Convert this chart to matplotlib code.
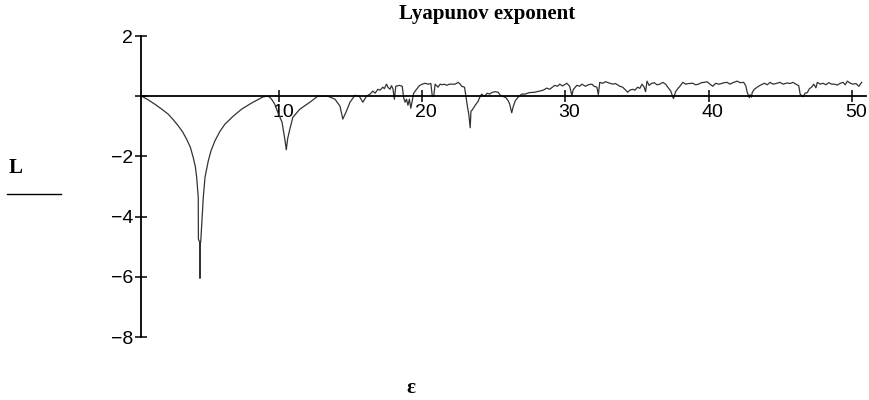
import numpy as np
import matplotlib.pyplot as plt
from matplotlib.transforms import ScaledTranslation
from matplotlib.lines import Line2D

# Lyapunov exponent L, against epsilon
eps = [0.40, 0.85, 1.33, 1.80, 2.26, 2.60, 2.96, 3.25, 3.54, 3.80, 4.00, 4.15,
       4.24, 4.35, 4.36, 4.45, 4.47, 4.49, 4.52, 4.70, 4.82, 5.05, 5.25, 5.52,
       5.85, 6.21, 6.80, 7.38, 8.10, 8.89, 9.20, 9.36, 9.50, 9.70, 9.90, 10.20,
       10.40, 10.50, 10.60, 10.75, 10.96, 11.45, 12.15, 12.70, 13.40, 13.90, 14.25, 14.45,
       14.70, 14.95, 15.30, 15.60, 15.85, 16.10, 16.35, 16.55, 16.70, 16.90, 17.05, 17.25,
       17.35, 17.50, 17.60, 17.75, 17.85, 17.95, 18.05, 18.15, 18.40, 18.60, 18.70, 18.80,
       18.90, 19.00, 19.10, 19.20, 19.30, 19.40, 19.60, 19.80, 20.00, 20.20, 20.40, 20.60,
       20.70, 20.80, 20.90, 21.10, 21.25, 21.40, 21.55, 21.70, 21.90, 22.10, 22.30, 22.50,
       22.65, 22.75, 22.95, 23.05, 23.15, 23.25, 23.35, 23.40, 23.50, 23.70, 23.90, 24.00,
       24.15, 24.30, 24.40, 24.55, 24.70, 24.90, 25.10, 25.30, 25.45, 25.60, 25.85, 26.00,
       26.10, 26.25, 26.35, 26.50, 26.70, 26.95, 27.20, 27.35, 27.50, 27.85, 28.00, 28.20,
       28.45, 28.70, 28.90, 29.10, 29.26, 29.45, 29.60, 29.80, 30.10, 30.30, 30.45, 30.55,
       30.80, 31.00, 31.15, 31.40, 31.60, 31.85, 32.00, 32.20, 32.30, 32.40, 32.60, 32.80,
       33.10, 33.30, 33.50, 33.80, 34.00, 34.15, 34.35, 34.50, 34.70, 34.85, 35.05, 35.20,
       35.35, 35.50, 35.60, 35.70, 35.85, 36.00, 36.20, 36.40, 36.60, 36.80, 37.00, 37.15,
       37.35, 37.55, 37.70, 37.85, 38.00, 38.20, 38.40, 38.60, 38.90, 39.10, 39.30, 39.50,
       39.70, 39.90, 40.10, 40.30, 40.50, 40.70, 40.90, 41.10, 41.30, 41.50, 41.70, 42.00,
       42.20, 42.45, 42.60, 42.70, 42.85, 42.90, 43.00, 43.05, 43.20, 43.40, 43.60, 43.90,
       44.10, 44.30, 44.50, 44.70, 45.00, 45.20, 45.50, 45.70, 45.90, 46.10, 46.30, 46.40,
       46.60, 46.75, 46.90, 47.05, 47.20, 47.35, 47.50, 47.60, 47.80, 48.00, 48.20, 48.40,
       48.60, 48.80, 49.00, 49.20, 49.40, 49.55, 49.70, 49.90, 50.10, 50.30, 50.50, 50.70]

L = [0.00, -0.12, -0.27, -0.43, -0.60, -0.78, -0.99, -1.18, -1.43, -1.70, -2.04, -2.35,
     -2.70, -3.37, -4.75, -4.85, -6.05, -4.85, -4.86, -3.37, -2.70, -2.15, -1.80, -1.48,
     -1.18, -0.93, -0.66, -0.43, -0.22, -0.02, 0.00, -0.04, -0.12, -0.27, -0.53, -0.86,
     -1.43, -1.78, -1.40, -1.09, -0.70, -0.43, -0.20, 0.00, 0.00, -0.10, -0.33, -0.76,
     -0.50, -0.20, 0.03, 0.00, -0.20, 0.00, 0.07, 0.17, 0.10, 0.23, 0.20, 0.30,
     0.25, 0.40, 0.30, 0.23, 0.35, 0.25, -0.10, 0.33, 0.36, 0.33, -0.05, -0.20,
     -0.10, -0.30, -0.10, -0.40, -0.15, 0.10, 0.23, 0.35, 0.40, 0.43, 0.40, 0.42,
     0.00, 0.00, 0.40, 0.30, 0.40, 0.38, 0.40, 0.36, 0.40, 0.40, 0.40, 0.46,
     0.40, 0.33, 0.30, 0.00, -0.33, -0.60, -1.05, -0.50, -0.45, -0.30, -0.17, -0.05,
     0.07, 0.00, 0.03, 0.10, 0.07, 0.13, 0.15, 0.13, 0.03, 0.00, -0.05, -0.15,
     -0.25, -0.55, -0.35, -0.15, -0.03, 0.07, 0.07, 0.10, 0.12, 0.13, 0.15, 0.17,
     0.20, 0.27, 0.23, 0.30, 0.36, 0.33, 0.40, 0.34, 0.43, 0.33, 0.02, 0.22,
     0.36, 0.33, 0.40, 0.33, 0.38, 0.40, 0.33, 0.30, 0.05, 0.46, 0.43, 0.48,
     0.43, 0.40, 0.42, 0.33, 0.30, 0.23, 0.13, 0.20, 0.23, 0.20, 0.30, 0.26,
     0.40, 0.30, 0.15, 0.50, 0.36, 0.42, 0.45, 0.38, 0.40, 0.46, 0.40, 0.30,
     0.18, -0.08, 0.15, 0.25, 0.33, 0.46, 0.40, 0.42, 0.43, 0.38, 0.40, 0.45,
     0.46, 0.48, 0.40, 0.33, 0.43, 0.40, 0.42, 0.45, 0.46, 0.40, 0.45, 0.50,
     0.45, 0.46, 0.35, 0.13, -0.05, 0.05, -0.03, 0.12, 0.23, 0.30, 0.36, 0.43,
     0.38, 0.46, 0.40, 0.42, 0.46, 0.40, 0.44, 0.42, 0.46, 0.40, 0.35, 0.07,
     -0.02, 0.10, 0.12, 0.25, 0.30, 0.40, 0.28, 0.46, 0.40, 0.43, 0.38, 0.45,
     0.40, 0.40, 0.37, 0.43, 0.46, 0.38, 0.50, 0.43, 0.40, 0.42, 0.33, 0.46]

xticks = [10, 20, 30, 40, 50]
yticks = [2, 0, -2, -4, -6, -8]
ytick_labels = ["2", "", "\u22122", "\u22124", "\u22126", "\u22128"]

tick_font = ["Liberation Sans Narrow", "Liberation Sans", "DejaVu Sans"]

fig = plt.figure(figsize=(8.7, 4.0), dpi=100)
ax = fig.add_axes([141 / 870, 63 / 400, 725 / 870, 301 / 400])

ax.plot(eps, L, color="#333333", lw=0.9)

ax.set_xlim(0.35, 51.0)
ax.set_ylim(-8, 2)

# Maple-like axes crossing at the origin
ax.spines["top"].set_visible(False)
ax.spines["right"].set_visible(False)
ax.spines["bottom"].set_position(("data", 0))
ax.spines["bottom"].set_linewidth(1.3)
ax.spines["left"].set_linewidth(1.3)

ax.set_xticks(xticks)
ax.set_xticklabels([str(t) for t in xticks], fontsize=14, family=tick_font)
ax.set_yticks(yticks)
ax.set_yticklabels(ytick_labels, fontsize=14, family=tick_font)
ax.tick_params(axis="both", direction="inout", length=9, width=1.1, colors="black")
ax.tick_params(axis="x", pad=1)
ax.tick_params(axis="y", pad=1)

# shift the x tick labels a bit to the right as in the reference
for lab in ax.get_xticklabels():
    lab.set_transform(lab.get_transform() + ScaledTranslation(4 / 100, 0, fig.dpi_scale_trans))

fig.text(487 / 870, 1 - 14 / 400, "Lyapunov exponent", ha="center", va="center",
         fontsize=15, fontweight="bold", family="Liberation Serif")
fig.text(16 / 870, 1 - 168 / 400, "L", ha="center", va="center",
         fontsize=15, fontweight="bold", family="Liberation Serif")
fig.add_artist(Line2D([7 / 870, 61 / 870], [1 - 194 / 400, 1 - 194 / 400],
                      transform=fig.transFigure, color="black", lw=1.0))
fig.text(411 / 870, 1 - 388 / 400, "\u03b5", ha="center", va="center",
         fontsize=15, fontweight="bold", family="Liberation Serif")

fig.savefig("out.png", dpi=100)
